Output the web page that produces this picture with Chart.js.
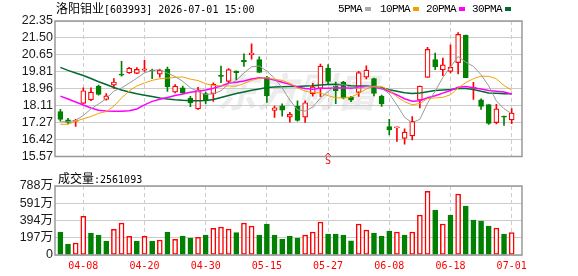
<!DOCTYPE html>
<html>
<head>
<meta charset="utf-8">
<script src="https://cdn.jsdelivr.net/npm/chart.js@4.4.0/dist/chart.umd.min.js"></script>
<style>
html, body { margin: 0; padding: 0; background: #fff; }
#wrap { position: relative; width: 578px; height: 276px; overflow: hidden; }
canvas { position: absolute; left: 0; }
#kline { top: 0; }
#vol { top: 170px; }
.txt { position: absolute; white-space: nowrap; color: #000; line-height: 16px; z-index: 2; }
.cjk { font-family: 'Noto Sans CJK SC', sans-serif; font-size: 12px; }
.mono { font-family: 'DejaVu Sans Mono', monospace; font-size: 10px; }
.lg { font-family: 'Liberation Mono', monospace; font-size: 11px; letter-spacing: -0.6px; }
.sq { position: absolute; width: 6px; height: 4px; z-index: 2; }
</style>
</head>
<body>
<div id="wrap">
  <canvas id="kline" width="578" height="166"></canvas>
  <canvas id="vol" width="578" height="106"></canvas>
  <div class="txt cjk" style="left:56px;top:0px;">洛阳钼业<span class="mono">[603993] 2026-07-01 15:00</span></div>
  <div class="txt lg" style="left:338px;top:1px;">5PMA</div>
  <div class="sq" style="left:365px;top:7px;background:#aaaaaa;"></div>
  <div class="txt lg" style="left:380px;top:1px;">10PMA</div>
  <div class="sq" style="left:413px;top:7px;background:#f5a000;"></div>
  <div class="txt lg" style="left:426px;top:1px;">20PMA</div>
  <div class="sq" style="left:459px;top:7px;background:#ff00ff;"></div>
  <div class="txt lg" style="left:472px;top:1px;">30PMA</div>
  <div class="sq" style="left:505px;top:7px;background:#006b2e;"></div>
  <div class="txt cjk" style="left:58px;top:170px;">成交量<span class="mono">:2561093</span></div>
</div>
<script>
// 日期 (交易日)
var dates = ['04-02','04-03','04-07','04-08','04-09','04-10','04-13','04-14','04-15','04-16',
  '04-17','04-20','04-21','04-22','04-23','04-24','04-27','04-28','04-29','04-30',
  '05-06','05-07','05-08','05-11','05-12','05-13','05-14','05-15','05-18','05-19',
  '05-20','05-21','05-22','05-25','05-26','05-27','05-28','05-29','06-01','06-02',
  '06-03','06-04','06-05','06-08','06-09','06-10','06-11','06-12','06-15','06-16',
  '06-17','06-18','06-22','06-23','06-24','06-25','06-26','06-29','06-30','07-01'];
var tickDates = ['04-08','04-20','04-30','05-15','05-27','06-08','06-18','07-01'];

var opens = [17.82,17.40,17.33,18.23,18.40,19.09,18.42,19.14,19.69,19.75,
  19.73,19.89,19.89,19.69,19.94,18.79,19.00,18.48,17.95,18.72,
  18.72,19.62,19.33,19.85,20.38,20.67,20.42,19.53,17.87,18.11,
  17.54,18.09,17.54,18.72,18.98,19.99,19.09,19.30,18.53,18.78,
  19.54,19.47,18.59,17.07,17.00,16.48,16.60,18.39,19.53,20.42,
  19.91,19.83,20.27,21.65,18.98,18.40,18.17,17.26,17.59,17.40];
var highs = [17.93,17.48,17.43,19.00,19.01,19.14,18.72,19.47,20.33,20.03,
  20.02,20.38,19.95,19.95,20.05,19.17,19.09,18.58,19.03,18.79,
  19.26,20.09,19.97,19.86,20.71,21.21,20.56,19.58,18.09,18.20,
  17.78,18.36,18.36,19.23,20.19,20.17,19.30,19.33,18.58,19.83,
  20.11,19.50,18.64,17.43,17.06,16.96,17.57,19.09,21.03,20.74,
  20.50,21.16,21.77,21.65,19.28,18.45,18.17,18.18,17.59,17.97];
var lows = [17.34,17.21,17.07,18.23,18.36,18.64,18.39,18.98,19.59,19.73,
  19.72,19.83,19.47,19.54,18.83,18.75,18.72,18.06,17.92,18.20,
  18.32,19.26,19.26,19.42,20.08,20.44,19.78,18.28,17.52,17.59,
  17.29,17.34,17.27,18.59,18.56,19.22,18.21,18.45,18.31,18.58,
  19.45,18.60,18.07,16.65,16.32,16.19,16.40,18.00,19.53,19.91,
  19.62,19.75,19.70,19.52,18.42,17.92,17.17,17.20,17.12,17.21];
var closes = [17.43,17.27,17.38,18.86,18.79,18.68,18.60,19.30,19.64,19.99,
  19.93,19.96,19.85,19.88,19.07,19.09,18.75,18.25,18.91,18.39,
  19.19,19.58,19.92,19.77,20.30,20.74,19.78,18.60,18.01,17.89,
  17.68,17.37,18.26,19.05,20.09,19.33,18.86,18.50,18.39,19.77,
  19.89,18.73,18.20,16.90,17.05,16.79,17.34,19.09,20.93,20.06,
  20.16,20.03,21.68,19.52,19.00,18.07,17.23,17.95,17.54,17.74];

var ma5 = [17.31,17.30,17.38,17.62,17.95,18.20,18.46,18.85,19.00,19.24,
  19.49,19.76,19.87,19.92,19.74,19.57,19.33,19.01,18.81,18.68,
  18.70,18.86,19.20,19.37,19.75,20.06,20.10,19.84,19.49,19.00,
  18.39,17.91,17.84,18.05,18.49,18.82,19.12,19.17,19.03,18.97,
  19.08,19.06,19.00,18.70,18.15,17.53,17.26,17.43,18.24,18.84,
  19.52,20.05,20.57,20.29,20.08,19.66,19.10,18.35,17.96,17.71];
var ma10 = [17.18,17.18,17.33,17.46,17.57,17.73,17.82,18.09,18.50,18.85,
  19.10,19.25,19.38,19.46,19.49,19.53,19.55,19.44,19.37,19.21,
  19.13,19.10,19.10,19.09,19.22,19.38,19.48,19.52,19.43,19.38,
  19.23,19.01,18.84,18.77,18.75,18.61,18.51,18.50,18.54,18.73,
  18.95,19.09,19.08,18.87,18.56,18.31,18.16,18.22,18.47,18.50,
  18.53,18.66,19.00,19.27,19.46,19.59,19.58,19.46,19.12,18.89];
var ma20 = [18.59,18.45,18.30,18.15,18.00,17.88,17.85,17.84,17.83,17.86,
  17.95,18.15,18.33,18.43,18.52,18.62,18.70,18.78,18.84,18.90,
  18.99,19.10,19.23,19.28,19.35,19.45,19.51,19.48,19.40,19.29,
  19.18,19.05,18.97,18.93,18.98,18.99,19.00,19.01,18.99,19.05,
  19.09,19.05,18.96,18.82,18.65,18.46,18.34,18.36,18.51,18.61,
  18.74,18.87,19.04,19.07,19.01,18.95,18.87,18.84,18.80,18.70];
var ma30 = [20.03,19.88,19.75,19.62,19.47,19.31,19.17,19.02,18.90,18.80,
  18.71,18.64,18.57,18.50,18.45,18.41,18.38,18.36,18.36,18.37,
  18.42,18.52,18.62,18.72,18.80,18.88,18.95,19.02,19.05,19.06,
  19.07,19.07,19.10,19.11,19.15,19.17,19.18,19.15,19.11,19.10,
  19.10,19.06,19.01,18.91,18.84,18.76,18.72,18.75,18.81,18.87,
  18.90,18.92,18.97,18.97,18.92,18.83,18.75,18.73,18.71,18.71];

// 成交量 (万)
var vols = [263,126,137,442,251,228,160,293,365,213,
  160,213,160,171,263,179,217,194,202,228,
  305,320,297,255,365,331,228,354,228,183,
  217,194,228,263,377,240,240,228,163,354,
  286,251,217,274,263,228,263,457,727,514,
  354,457,697,560,400,388,331,308,240,256];

var priceTicks = [15.57,16.42,17.27,18.11,18.96,19.81,20.65,21.50,22.35];
var volTicks = [0,197,394,591,788];

var rosso = '#ff0000';
var verde = '#008000';

function candelaSu(i) { return closes[i] >= opens[i]; }
function volumeSu(i) { return i == 0 ? closes[0] >= opens[0] : closes[i] >= closes[i - 1]; }
function punti(arr) { return arr.map(function(v, i) { return { x: i, y: v }; }); }

var cornice = {
  id: 'cornice',
  afterDraw: function(chart) {
    var a = chart.chartArea, ctx = chart.ctx;
    ctx.save();
    ctx.strokeStyle = '#999';
    ctx.lineWidth = 1.5;
    ctx.strokeRect(a.left, a.top, a.right - a.left, a.bottom - a.top);
    ctx.restore();
  }
};

var filigrana = {
  id: 'filigrana',
  beforeDatasetsDraw: function(chart) {
    var ctx = chart.ctx;
    ctx.save();
    ctx.fillStyle = 'rgba(200,200,200,0.35)';
    ctx.font = 'italic bold 40px "Noto Sans CJK SC"';
    ctx.textAlign = 'center';
    ctx.textBaseline = 'middle';
    ctx.fillText('东方财富', 297, 92);
    ctx.restore();
  }
};

var segnale = {
  id: 'segnale',
  afterDatasetsDraw: function(chart) {
    var ctx = chart.ctx;
    var x = chart.scales.x.getPixelForValue(dates.indexOf('05-27'));
    ctx.save();
    ctx.fillStyle = rosso;
    ctx.strokeStyle = rosso;
    ctx.font = '10px "DejaVu Sans Mono"';
    ctx.textAlign = 'center';
    ctx.textBaseline = 'middle';
    ctx.fillText('S', x, 161);
    ctx.lineWidth = 1;
    ctx.beginPath();
    ctx.moveTo(x - 3, 156.5);
    ctx.lineTo(x, 153);
    ctx.lineTo(x + 3, 156.5);
    ctx.stroke();
    ctx.restore();
  }
};

function assexX(mostra) {
  return {
    type: 'linear', min: -0.7, max: 60.35, offset: false,
    grid: { color: '#cccccc', drawTicks: false, offset: false },
    border: { display: false, dash: [4, 3] },
    afterBuildTicks: function(s) {
      s.ticks = tickDates.map(function(d) { return { value: dates.indexOf(d) }; });
    },
    ticks: {
      display: mostra, autoSkip: false, maxRotation: 0, padding: 5,
      color: rosso, font: { family: 'DejaVu Sans Mono', size: 10 },
      callback: function(v) { return dates[v]; }
    },
    afterFit: function(s) { s.height = mostra ? 21 : 0; }
  };
}

var kline = new Chart(document.getElementById('kline'), {
  type: 'bar',
  data: {
    datasets: [
      {
        label: 'wick',
        data: dates.map(function(d, i) { return { x: i, y: [lows[i], highs[i]] }; }),
        backgroundColor: dates.map(function(d, i) { return candelaSu(i) ? rosso : verde; }),
        barThickness: 1, grouped: false, order: 3
      },
      {
        label: 'body',
        data: dates.map(function(d, i) { return { x: i, y: [opens[i], closes[i]] }; }),
        backgroundColor: dates.map(function(d, i) { return candelaSu(i) ? '#ffffff' : verde; }),
        borderColor: dates.map(function(d, i) { return candelaSu(i) ? rosso : verde; }),
        borderWidth: 1.2, borderSkipped: false, minBarLength: 1,
        barThickness: 5, grouped: false, order: 2
      },
      { type: 'line', label: '5PMA', data: punti(ma5), borderColor: '#999999', borderWidth: 1, pointRadius: 0, order: 1 },
      { type: 'line', label: '10PMA', data: punti(ma10), borderColor: '#f5a000', borderWidth: 1, pointRadius: 0, order: 1 },
      { type: 'line', label: '20PMA', data: punti(ma20), borderColor: '#ff00ff', borderWidth: 1.5, pointRadius: 0, order: 1 },
      { type: 'line', label: '30PMA', data: punti(ma30), borderColor: '#006b2e', borderWidth: 1.5, pointRadius: 0, order: 1 }
    ]
  },
  options: {
    responsive: false, animation: false,
    layout: { padding: { top: 21, right: 56, bottom: 1, left: 0 } },
    plugins: { legend: { display: false }, tooltip: { enabled: false } },
    scales: {
      x: assexX(false),
      y: {
        min: 15.57, max: 22.35,
        afterBuildTicks: function(s) { s.ticks = priceTicks.map(function(v) { return { value: v }; }); },
        ticks: {
          autoSkip: false, padding: 2, color: '#1a1a1a',
          font: { family: 'Liberation Sans', size: 12.5 },
          callback: function(v) { return v.toFixed(2); }
        },
        grid: { color: '#cccccc', drawTicks: false },
        border: { display: false },
        afterFit: function(s) { s.width = 55; }
      }
    }
  },
  plugins: [cornice, filigrana, segnale]
});

var volume = new Chart(document.getElementById('vol'), {
  type: 'bar',
  data: {
    datasets: [{
      label: '成交量',
      data: punti(vols),
      backgroundColor: vols.map(function(v, i) { return volumeSu(i) ? '#ffffff' : verde; }),
      borderColor: vols.map(function(v, i) { return volumeSu(i) ? rosso : verde; }),
      borderWidth: 1.5, borderSkipped: false, barThickness: 5, grouped: false
    }]
  },
  options: {
    responsive: false, animation: false,
    layout: { padding: { top: 16, right: 56, bottom: 0, left: 0 } },
    plugins: { legend: { display: false }, tooltip: { enabled: false } },
    scales: {
      x: assexX(true),
      y: {
        min: 0, max: 788,
        afterBuildTicks: function(s) { s.ticks = volTicks.map(function(v) { return { value: v }; }); },
        ticks: {
          autoSkip: false, padding: 2, color: '#1a1a1a',
          font: { family: "'Liberation Sans', 'Noto Sans CJK SC'", size: 12.5 },
          callback: function(v) { return v == 0 ? '0' : v + '万'; }
        },
        grid: { color: '#cccccc', drawTicks: false },
        border: { display: false },
        afterFit: function(s) { s.width = 55; }
      }
    }
  },
  plugins: [cornice]
});
</script>
</body>
</html>
